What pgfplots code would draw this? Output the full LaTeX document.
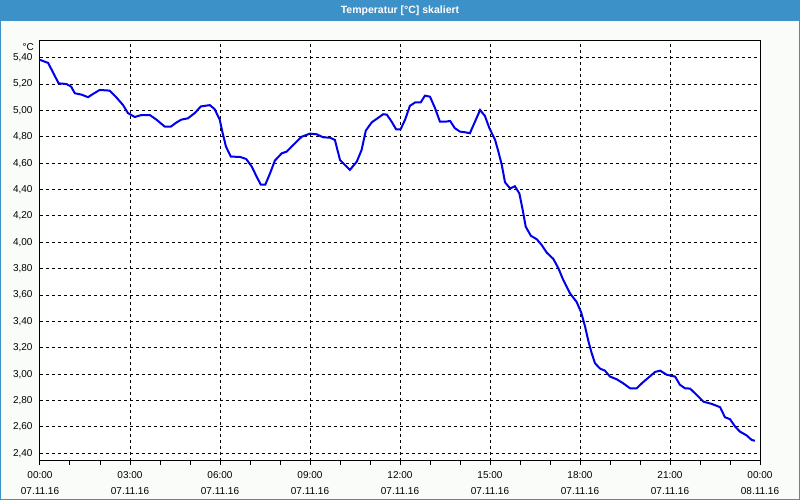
\documentclass[border=0pt]{standalone}
\usepackage{fontspec}
\setmainfont{Liberation Sans}
\usepackage{pgfplots}
\usepackage{pgfplotstable}
\pgfplotsset{compat=1.18}
\definecolor{titleblue}{RGB}{60,145,200}
\definecolor{bgc}{RGB}{250,252,250}
\definecolor{lineblue}{RGB}{0,0,235}
\pgfplotstableread{
h v
0.0 5.383
0.27 5.36
0.43 5.29
0.62 5.205
0.88 5.20
1.04 5.18
1.16 5.13
1.38 5.12
1.6 5.10
1.77 5.125
1.99 5.155
2.32 5.15
2.54 5.10
2.77 5.04
2.93 4.98
3.16 4.95
3.38 4.965
3.66 4.965
3.88 4.93
4.16 4.877
4.36 4.877
4.54 4.907
4.71 4.93
4.93 4.94
5.16 4.98
5.36 5.03
5.66 5.04
5.82 5.01
5.99 4.93
6.09 4.826
6.2 4.725
6.36 4.65
6.67 4.647
6.87 4.632
7.06 4.574
7.22 4.498
7.36 4.437
7.51 4.437
7.67 4.524
7.83 4.62
8.06 4.675
8.22 4.687
8.44 4.738
8.72 4.80
9.0 4.824
9.22 4.819
9.44 4.796
9.67 4.793
9.83 4.776
10.0 4.624
10.33 4.549
10.56 4.612
10.72 4.70
10.86 4.847
11.06 4.91
11.28 4.945
11.44 4.971
11.56 4.968
11.72 4.915
11.87 4.857
12.02 4.857
12.17 4.93
12.33 5.034
12.5 5.06
12.69 5.06
12.83 5.112
13.0 5.104
13.17 5.016
13.33 4.915
13.53 4.915
13.67 4.92
13.83 4.865
14.0 4.839
14.17 4.834
14.33 4.827
14.5 4.915
14.67 5.003
14.83 4.958
14.98 4.865
15.17 4.776
15.28 4.687
15.39 4.59
15.5 4.455
15.67 4.408
15.83 4.425
15.98 4.37
16.09 4.245
16.19 4.119
16.36 4.05
16.56 4.023
16.72 3.98
16.89 3.922
17.11 3.874
17.28 3.803
17.44 3.715
17.67 3.612
17.89 3.547
18.04 3.468
18.17 3.36
18.28 3.25
18.39 3.159
18.5 3.083
18.67 3.042
18.83 3.027
19.0 2.982
19.22 2.962
19.44 2.931
19.67 2.893
19.89 2.893
20.06 2.931
20.28 2.974
20.5 3.017
20.67 3.027
20.89 2.996
21.17 2.982
21.33 2.92
21.5 2.893
21.67 2.891
21.89 2.843
22.11 2.792
22.39 2.775
22.67 2.75
22.83 2.674
23.0 2.659
23.17 2.603
23.33 2.565
23.56 2.535
23.72 2.502
23.83 2.495
}\temp
\begin{document}
\begin{tikzpicture}[x=1pt,y=1pt]
\fill[bgc] (0,0) rectangle (800,500);
\fill[titleblue] (0,479) rectangle (800,500);
\draw[titleblue, line width=1pt] (0.5,0.5) rectangle (799.5,499.5);
\node[text=white, font=\bfseries\fontsize{10.5}{12}\selectfont] at (400,489.5) {Temperatur [°C] skaliert};
\begin{axis}[
  at={(40pt,39pt)}, anchor=south west,
  scale only axis, width=720pt, height=420.5pt,
  xmin=0, xmax=24, ymin=2.342, ymax=5.53,
  axis background/.style={fill=white},
  axis line style={black, line width=1pt},
  xtick={0,3,...,24},
  xticklabels={{00:00\\07.11.16},{03:00\\07.11.16},{06:00\\07.11.16},{09:00\\07.11.16},{12:00\\07.11.16},{15:00\\07.11.16},{18:00\\07.11.16},{21:00\\07.11.16},{00:00\\08.11.16}},
  xticklabel style={align=center, font=\fontsize{10}{16}\selectfont, yshift=-3pt},
  ytick={2.4,2.6,...,5.41},
  yticklabel style={font=\fontsize{10}{12}\selectfont,
    /pgf/number format/use comma,
    /pgf/number format/fixed,
    /pgf/number format/fixed zerofill,
    /pgf/number format/precision=2,
    /pgf/number format/assume math mode=true},
  minor x tick num=2,
  xtick pos=bottom, ytick pos=left,
  tick align=outside,
  major tick length=4pt, minor tick length=4pt,
  xtick style={black, line width=1pt},
  minor x tick style={black, line width=1pt},
  ytick style={draw=none},
  xmajorgrids, ymajorgrids,
  major grid style={black, line width=1pt, dash pattern=on 3pt off 3pt},
]
\addplot[lineblue, line width=2pt] table[x=h, y=v] {\temp};
\end{axis}
\node[anchor=east, font=\fontsize{10}{12}\selectfont] at (37.5,453) {°C};
\end{tikzpicture}
\end{document}
